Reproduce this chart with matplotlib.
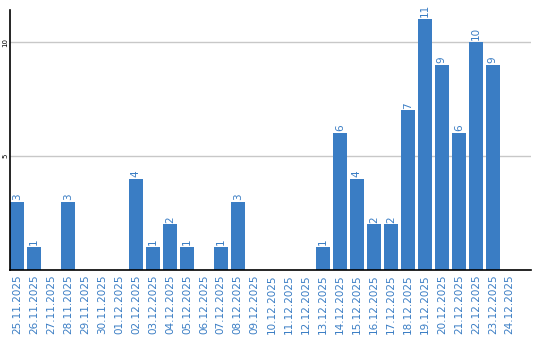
import matplotlib
matplotlib.use("Agg")
import matplotlib.pyplot as plt

# Daily counts
dates = ["25.11.2025", "26.11.2025", "27.11.2025", "28.11.2025", "29.11.2025",
         "30.11.2025", "01.12.2025", "02.12.2025", "03.12.2025", "04.12.2025",
         "05.12.2025", "06.12.2025", "07.12.2025", "08.12.2025", "09.12.2025",
         "10.12.2025", "11.12.2025", "12.12.2025", "13.12.2025", "14.12.2025",
         "15.12.2025", "16.12.2025", "17.12.2025", "18.12.2025", "19.12.2025",
         "20.12.2025", "21.12.2025", "22.12.2025", "23.12.2025", "24.12.2025"]
counts = [3, 1, 0, 3, 0, 0, 0, 4, 1, 2,
          1, 0, 1, 3, 0, 0, 0, 0, 1, 6,
          4, 2, 2, 7, 11, 9, 6, 10, 9, 0]
yticks = [5, 10]

bar_color = "#3a7dc4"
text_color = "#3a7dc4"

fig = plt.figure(figsize=(5.4, 3.4), dpi=100)
ax = fig.add_axes([0.0185, 0.206, 0.9645, 0.764])

x = list(range(len(dates)))
ax.bar(x, counts, width=0.8, color=bar_color, zorder=2)

# value labels above non-empty bars
for xi, v in zip(x, counts):
    if v > 0:
        ax.text(xi, v + 0.08, str(v), rotation=90, ha="center", va="bottom",
                fontsize=7.5, color=text_color)

# plot area is wider than the bars need: one spare slot on the right
ax.set_xlim(-0.41, len(dates) + 0.24)
ax.set_ylim(0, 11.4)
ax.set_xticks(x)
ax.set_xticklabels(dates, rotation=90, fontsize=7.5, color=text_color)
ax.set_yticks(yticks)
ax.set_yticklabels([str(t) for t in yticks], rotation=90, fontsize=5,
                   va="center", color="black")
ax.tick_params(axis="x", length=0, pad=3)
ax.tick_params(axis="y", length=0, pad=1)

ax.grid(axis="y", color="#c8c8c8", linewidth=1, zorder=0)
ax.spines["top"].set_visible(False)
ax.spines["right"].set_visible(False)
ax.spines["left"].set_color("black")
ax.spines["bottom"].set_color("black")
ax.spines["left"].set_linewidth(1.2)
ax.spines["bottom"].set_linewidth(1.2)

fig.savefig("out.png", dpi=100)
